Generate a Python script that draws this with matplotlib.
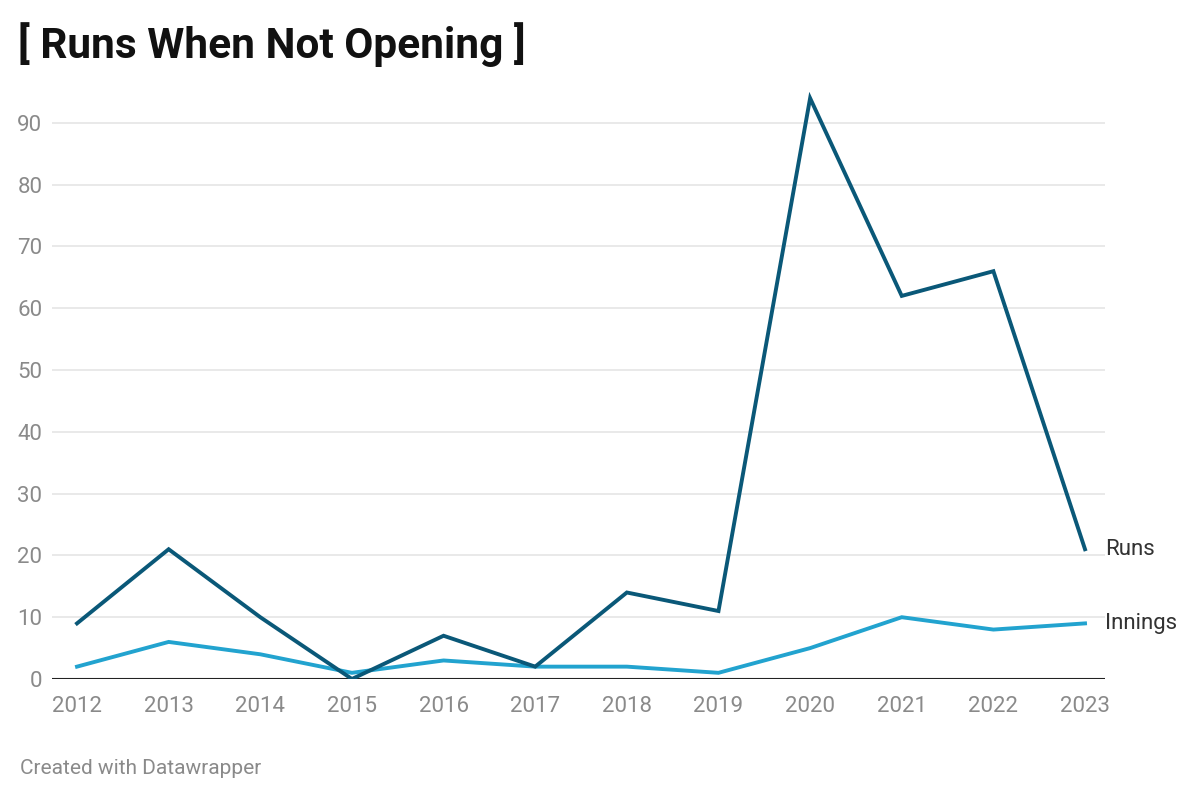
import matplotlib.pyplot as plt
import numpy as np

plt.rcParams['font.family'] = ['Roboto', 'DejaVu Sans']

years = [2012, 2013, 2014, 2015, 2016, 2017, 2018, 2019, 2020, 2021, 2022, 2023]
runs = [9, 21, 10, 0, 7, 2, 14, 11, 94, 62, 66, 21]
innings = [2, 6, 4, 1, 3, 2, 2, 1, 5, 10, 8, 9]
yticks = [0, 10, 20, 30, 40, 50, 60, 70, 80, 90]

fig = plt.figure(figsize=(12, 8.01), dpi=100)
ax = fig.add_axes([52/1200, 122/801, (1105-52)/1200, (679-92)/801])

# grid lines
for v in yticks[1:]:
    ax.axhline(v, color='#e3e3e3', lw=1.1, zorder=0)
ax.axhline(0, color='#222222', lw=1.5, zorder=3)

ax.plot(years, innings, color='#22a3cf', lw=2.8, zorder=4, solid_joinstyle='miter')
ax.plot(years, runs, color='#0a5878', lw=2.8, zorder=5, solid_joinstyle='miter')

ax.set_xlim(2011.727, 2023.218)
ax.set_ylim(0, 95)
ax.set_xticks(years)
ax.set_xticklabels([str(y) for y in years])
ax.set_yticks(yticks)
ax.tick_params(axis='both', length=0, labelsize=16, labelcolor='#8a8a8a')
ax.tick_params(axis='x', pad=12)
ax.tick_params(axis='y', pad=7)
for s in ax.spines.values():
    s.set_visible(False)

ax.annotate('Runs', xy=(years[-1], runs[-1]), xytext=(14.5, 0), textcoords='offset points',
            va='center', ha='left', fontsize=16, color='#333333')
ax.annotate('Innings', xy=(years[-1], innings[-1]), xytext=(14.5, 0), textcoords='offset points',
            va='center', ha='left', fontsize=16, color='#333333')

fig.text(18/1200, 1 - 45/801, '[ Runs When Not Opening ]', fontsize=30.5, fontweight='bold',
         color='#111111', va='center', ha='left')
fig.text(20/1200, 1 - 769/801, 'Created with Datawrapper', fontsize=15,
         color='#8a8a8a', va='center', ha='left')

fig.savefig('out.png', dpi=100, facecolor='white')
